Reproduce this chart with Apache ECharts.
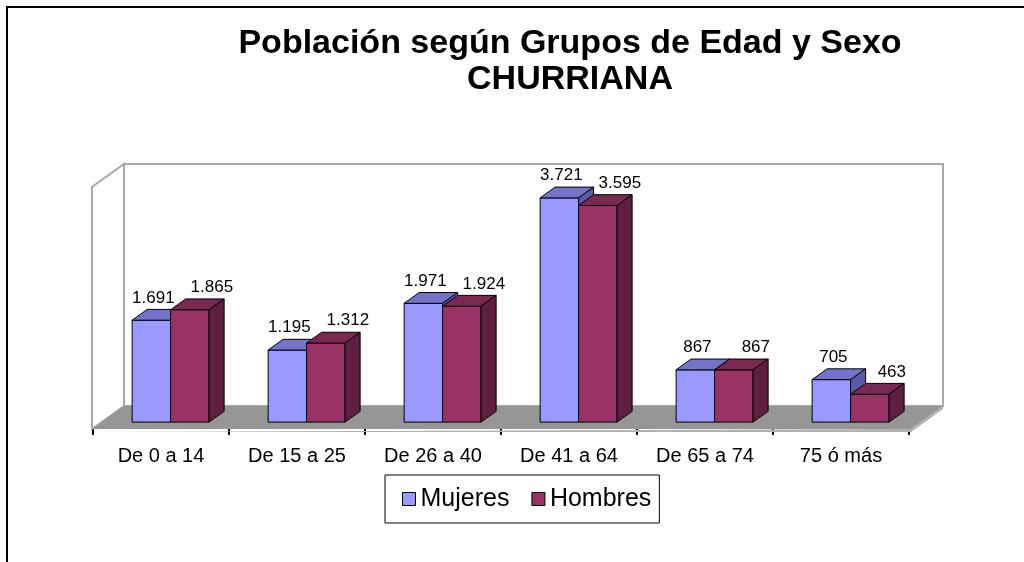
<!DOCTYPE html>
<html>
<head>
<meta charset="UTF-8">
<title>Población según Grupos de Edad y Sexo</title>
<style>
html, body { margin: 0; padding: 0; background: #fff; }
#chart { width: 1024px; height: 562px; }
</style>
</head>
<body>
<div id="chart"></div>
<script src="https://cdn.jsdelivr.net/npm/echarts@6/dist/echarts.min.js"></script>
<script>
var grupos = ['De 0 a 14', 'De 15 a 25', 'De 26 a 40', 'De 41 a 64', 'De 65 a 74', '75 ó más'];
var mujeres = [1691, 1195, 1971, 3721, 867, 705];
var hombres = [1865, 1312, 1924, 3595, 867, 463];
var valorMax = 4000;

// desplazamiento de la profundidad 3D (px)
var DX = 32, DY = -23;
var Z0 = 0.3, Z1 = 0.77;
var fuente = 'Liberation Sans, Arial, sans-serif';

function fmt(v) {
	return String(v).replace(/\B(?=(\d{3})+(?!\d))/g, '.');
}

function pts(arr) {
	return arr.map(function(p) { return [p[0], p[1]]; });
}

// barra 3D: lado 0 = izquierda (Mujeres), 1 = derecha (Hombres)
function barra(lado, frente, tapa, costado, despLabel) {
	return function(params, api) {
		var i = api.value(0), v = api.value(1);
		var base = api.coord([i, 0]);
		var tope = api.coord([i, v]);
		var bw = api.size([1, 0])[0];
		var ancho = bw * 0.283;
		var fx = Z0 * DX, fy = Z0 * DY;
		var ddx = (Z1 - Z0) * DX, ddy = (Z1 - Z0) * DY;
		var xL = base[0] + (lado === 0 ? -ancho : 0) + fx;
		var xR = xL + ancho;
		var yT = tope[1] + fy, yB = base[1] + fy;
		var borde = { stroke: '#000', lineWidth: 1 };
		return {
			type: 'group',
			children: [{
				type: 'polygon',
				shape: { points: pts([[xL, yT], [xR, yT], [xR, yB], [xL, yB]]) },
				style: Object.assign({ fill: frente }, borde)
			}, {
				type: 'polygon',
				shape: { points: pts([[xL, yT], [xR, yT], [xR + ddx, yT + ddy], [xL + ddx, yT + ddy]]) },
				style: Object.assign({ fill: tapa }, borde)
			}, {
				type: 'polygon',
				shape: { points: pts([[xR, yT], [xR + ddx, yT + ddy], [xR + ddx, yB + ddy], [xR, yB]]) },
				style: Object.assign({ fill: costado }, borde)
			}, {
				type: 'text',
				style: {
					text: fmt(v),
					x: (xL + xR) / 2 + despLabel,
					y: yT + ddy - 3,
					textAlign: 'center',
					textVerticalAlign: 'bottom',
					fill: '#000',
					font: '17px ' + fuente
				}
			}]
		};
	};
}

// paredes y suelo
function marco(params, api) {
	var bw = api.size([1, 0])[0];
	var l = api.coord([0, 0])[0] - bw / 2;
	var r = api.coord([grupos.length - 1, 0])[0] + bw / 2;
	var y0 = api.coord([0, 0])[1];
	var yM = api.coord([0, valorMax])[1] - 1;
	var linea = { stroke: '#a8a8a8', lineWidth: 2 };
	return {
		type: 'group',
		children: [{
			type: 'polygon',
			shape: { points: pts([[l - 1, y0], [l - 1, yM], [l - 1 + DX, yM + DY], [l - 1 + DX, y0 + DY]]) },
			style: Object.assign({ fill: '#fff' }, linea)
		}, {
			type: 'polygon',
			shape: { points: pts([[l - 1 + DX, yM + DY], [r + 2 + DX, yM + DY], [r + 2 + DX, y0 + DY], [l - 1 + DX, y0 + DY]]) },
			style: Object.assign({ fill: '#fff' }, linea)
		}, {
			type: 'polygon',
			shape: { points: pts([[l - 1, y0 + 3], [r + 2, y0 + 3], [r + 2 + DX, y0 + DY + 3], [r + 2 + DX, y0 + DY], [r + 2, y0]]) },
			style: { fill: '#b0b0b0' }
		}, {
			type: 'polygon',
			shape: { points: pts([[l - 1, y0], [l - 1 + DX, y0 + DY], [r + 2 + DX, y0 + DY], [r + 2, y0]]) },
			style: { fill: '#969696' }
		}]
	};
}

var datosM = mujeres.map(function(v, i) { return [i, v]; });
var datosH = hombres.map(function(v, i) { return [i, v]; });

var myChart = echarts.init(document.getElementById('chart'));

var option = {
	backgroundColor: '#fff',
	animation: false,
	graphic: [{
		type: 'polyline',
		shape: { points: [[7, 562], [7, 7], [1024, 7]] },
		style: { stroke: '#000', lineWidth: 2, fill: null }
	}, {
		type: 'text',
		x: 570, y: 44,
		style: {
			text: 'Población según Grupos de Edad y Sexo',
			textAlign: 'center', textVerticalAlign: 'middle',
			font: 'bold 34px ' + fuente, fill: '#000'
		}
	}, {
		type: 'text',
		x: 570, y: 80,
		style: {
			text: 'CHURRIANA',
			textAlign: 'center', textVerticalAlign: 'middle',
			font: 'bold 34px ' + fuente, fill: '#000'
		}
	}],
	legend: {
		data: ['Mujeres', 'Hombres'],
		left: 385,
		top: 475,
		padding: [10, 8, 10, 17],
		itemGap: 22,
		itemWidth: 13,
		itemHeight: 13,
		icon: 'rect',
		borderColor: '#000',
		borderWidth: 1,
		itemStyle: { borderColor: '#000', borderWidth: 1 },
		textStyle: { fontSize: 25, fontFamily: fuente, color: '#000', lineHeight: 28 }
	},
	grid: {
		left: 93,
		right: 115,
		top: 188,
		bottom: 133
	},
	xAxis: {
		type: 'category',
		data: grupos,
		boundaryGap: true,
		axisLine: { show: false },
		axisTick: { show: true, length: 6, lineStyle: { color: '#000', width: 2 } },
		axisLabel: { fontSize: 20, fontFamily: fuente, color: '#000', margin: 17 }
	},
	yAxis: {
		type: 'value',
		min: 0,
		max: valorMax,
		show: false
	},
	series: [{
		name: 'marco',
		type: 'custom',
		z: 1,
		renderItem: marco,
		data: [[0, 0]],
		silent: true
	}, {
		name: 'Mujeres',
		type: 'custom',
		z: 2,
		itemStyle: { color: '#9999FF' },
		renderItem: barra(0, '#9999FF', '#7373C9', '#5A5AA6', 2),
		data: datosM
	}, {
		name: 'Hombres',
		type: 'custom',
		z: 3,
		itemStyle: { color: '#993366' },
		renderItem: barra(1, '#993366', '#7A2952', '#5E1F40', 22),
		data: datosH
	}]
};

myChart.setOption(option);
</script>
</body>
</html>
